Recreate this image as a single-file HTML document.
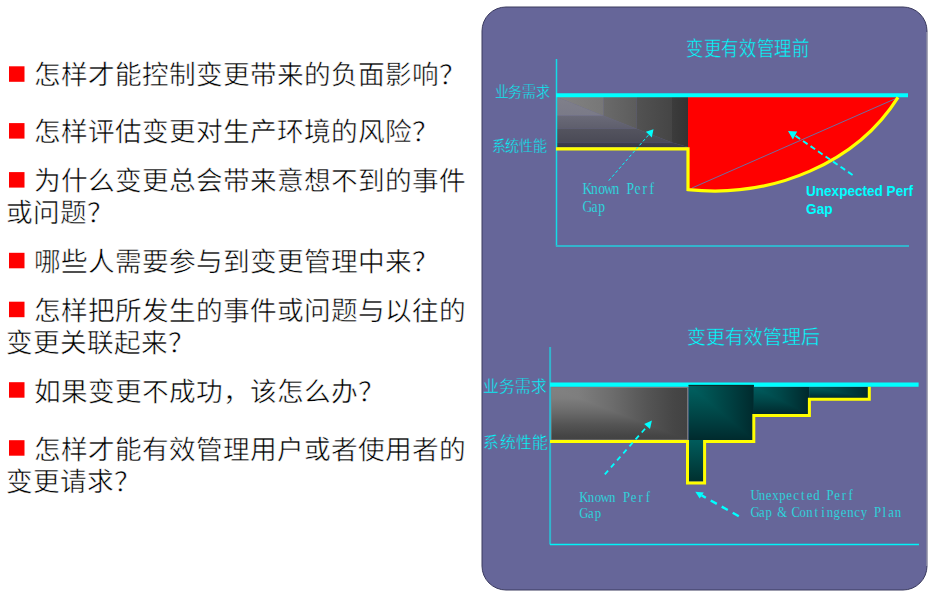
<!DOCTYPE html>
<html lang="zh-CN">
<head>
<meta charset="utf-8">
<style>
html,body{margin:0;padding:0;background:#fff;}
body{width:935px;height:595px;overflow:hidden;position:relative;font-family:"Liberation Serif",serif;}
svg{position:absolute;left:0;top:0;}
.q{font-family:"Liberation Serif",serif;font-size:26.67px;fill:#000;}
.q text{stroke:#fff;stroke-width:0.5px;}
.lab{font-family:"Liberation Serif",serif;fill:#00ffff;stroke:#666699;stroke-width:0.35px;}
.mono{font-family:"Liberation Serif",serif;fill:#28e0e4;stroke:#666699;stroke-width:0.15px;}
.bold{font-family:"Liberation Sans",sans-serif;font-weight:bold;fill:#00ffff;}
</style>
</head>
<body>
<svg width="935" height="595" viewBox="0 0 935 595">
<defs>
  <linearGradient id="gh" x1="0" y1="0" x2="1" y2="0">
    <stop offset="0" stop-color="#868686"/>
    <stop offset="0.35" stop-color="#747474"/>
    <stop offset="1" stop-color="#404040"/>
  </linearGradient>
  <linearGradient id="gv" x1="0" y1="0" x2="0" y2="1">
    <stop offset="0" stop-color="#444" stop-opacity="0"/>
    <stop offset="0.3" stop-color="#444" stop-opacity="0.1"/>
    <stop offset="1" stop-color="#424242" stop-opacity="1"/>
  </linearGradient>
  <linearGradient id="t1" x1="0" y1="0" x2="1" y2="1">
    <stop offset="0" stop-color="#006060"/>
    <stop offset="1" stop-color="#00282c"/>
  </linearGradient>
  <linearGradient id="t2" x1="0" y1="0" x2="1" y2="0.3">
    <stop offset="0" stop-color="#005c5e"/>
    <stop offset="1" stop-color="#002a2e"/>
  </linearGradient>
  <linearGradient id="t3" x1="0" y1="0" x2="0" y2="1">
    <stop offset="0" stop-color="#005c5c"/>
    <stop offset="1" stop-color="#00302f"/>
  </linearGradient>
  <linearGradient id="rv0" x1="0" y1="0" x2="1" y2="0"><stop offset="0" stop-color="#838383"/><stop offset="1" stop-color="#777777"/></linearGradient>
  <linearGradient id="rh0" x1="0" y1="0" x2="0" y2="1"><stop offset="0" stop-color="#80808a"/><stop offset="1" stop-color="#7a7a88"/></linearGradient>
  <linearGradient id="rv1" x1="0" y1="0" x2="1" y2="0"><stop offset="0" stop-color="#6a6a6a"/><stop offset="1" stop-color="#5c5c5c"/></linearGradient>
  <linearGradient id="rh1" x1="0" y1="0" x2="0" y2="1"><stop offset="0" stop-color="#6a6a78"/><stop offset="1" stop-color="#5e5e6c"/></linearGradient>
  <linearGradient id="rv2" x1="0" y1="0" x2="1" y2="0"><stop offset="0" stop-color="#525252"/><stop offset="1" stop-color="#454545"/></linearGradient>
  <linearGradient id="rh2" x1="0" y1="0" x2="0" y2="1"><stop offset="0" stop-color="#54545f"/><stop offset="1" stop-color="#4a4a56"/></linearGradient>
  <linearGradient id="rv3" x1="0" y1="0" x2="1" y2="0"><stop offset="0" stop-color="#3c3c3c"/><stop offset="1" stop-color="#333333"/></linearGradient>
  <linearGradient id="rh3" x1="0" y1="0" x2="0" y2="1"><stop offset="0" stop-color="#3e3e4c"/><stop offset="1" stop-color="#363644"/></linearGradient>
  <linearGradient id="gbH" x1="0" y1="0" x2="1" y2="0"><stop offset="0" stop-color="#828282"/><stop offset="0.2" stop-color="#7e7e7e"/><stop offset="0.45" stop-color="#6c6c6c"/><stop offset="0.7" stop-color="#555555"/><stop offset="0.9" stop-color="#464646"/><stop offset="1" stop-color="#424242"/></linearGradient>
  <linearGradient id="gbV" x1="0" y1="0" x2="0" y2="1"><stop offset="0" stop-color="#828282"/><stop offset="0.2" stop-color="#7e7e7e"/><stop offset="0.45" stop-color="#6c6c6c"/><stop offset="0.7" stop-color="#555555"/><stop offset="0.9" stop-color="#464646"/><stop offset="1" stop-color="#424242"/></linearGradient>
  <linearGradient id="tmH" x1="0" y1="0" x2="1" y2="0"><stop offset="0" stop-color="#006262"/><stop offset="0.35" stop-color="#005050"/><stop offset="0.7" stop-color="#003c3e"/><stop offset="1" stop-color="#002a2d"/></linearGradient>
  <linearGradient id="tmV" x1="0" y1="0" x2="0" y2="1"><stop offset="0" stop-color="#006262"/><stop offset="0.35" stop-color="#005050"/><stop offset="0.7" stop-color="#003c3e"/><stop offset="1" stop-color="#002a2d"/></linearGradient>
  <linearGradient id="ts2H" x1="0" y1="0" x2="1" y2="0"><stop offset="0" stop-color="#005e60"/><stop offset="0.5" stop-color="#004648"/><stop offset="1" stop-color="#00282c"/></linearGradient>
  <linearGradient id="ts2V" x1="0" y1="0" x2="0" y2="1"><stop offset="0" stop-color="#005e60"/><stop offset="0.5" stop-color="#004648"/><stop offset="1" stop-color="#00282c"/></linearGradient>
  <linearGradient id="ts3H" x1="0" y1="0" x2="1" y2="0"><stop offset="0" stop-color="#005e60"/><stop offset="0.5" stop-color="#004648"/><stop offset="1" stop-color="#00282c"/></linearGradient>
  <linearGradient id="ts3V" x1="0" y1="0" x2="0" y2="1"><stop offset="0" stop-color="#005e60"/><stop offset="0.5" stop-color="#004648"/><stop offset="1" stop-color="#00282c"/></linearGradient>
</defs>

<!-- left questions -->
<g class="q">
  <rect x="9" y="66.3" width="15.5" height="15.5" fill="#ff0000"/>
  <text x="33.6" y="84.4">怎样才能控制变更带来的负面影响？</text>
  <rect x="9" y="123.1" width="15.5" height="15.5" fill="#ff0000"/>
  <text x="33.6" y="141.4">怎样评估变更对生产环境的风险？</text>
  <rect x="9" y="172.1" width="15.5" height="15.5" fill="#ff0000"/>
  <text x="33.6" y="190.4">为什么变更总会带来意想不到的事件</text>
  <text x="6" y="222.4">或问题？</text>
  <rect x="9" y="252.8" width="15.5" height="15.5" fill="#ff0000"/>
  <text x="33.6" y="270.5">哪些人需要参与到变更管理中来？</text>
  <rect x="9" y="301.7" width="15.5" height="15.5" fill="#ff0000"/>
  <text x="33.6" y="320.0">怎样把所发生的事件或问题与以往的</text>
  <text x="6" y="352.3">变更关联起来？</text>
  <rect x="9" y="382.2" width="15.5" height="15.5" fill="#ff0000"/>
  <text x="33.6" y="400.5">如果变更不成功，该怎么办？</text>
  <rect x="9" y="440.2" width="15.5" height="15.5" fill="#ff0000"/>
  <text x="33.6" y="458.5">怎样才能有效管理用户或者使用者的</text>
  <text x="6" y="490.8">变更请求？</text>
</g>

<!-- panel -->
<rect x="482" y="7" width="445" height="583" rx="24" ry="24" fill="#666699" stroke="#3a3a5e" stroke-width="1"/>
<line x1="927" y1="32" x2="927" y2="566" stroke="#b4b4c4" stroke-width="1"/>

<!-- ===== top chart ===== -->
<text class="lab" transform="translate(685.8,56) scale(1,1.1)" font-size="18.6" textLength="124" lengthAdjust="spacingAndGlyphs">变更有效管理前</text>
<text class="lab" transform="translate(494.8,97.3) scale(1,1.08)" font-size="13.8" textLength="54.5" lengthAdjust="spacingAndGlyphs">业务需求</text>
<text class="lab" transform="translate(491.8,151.2) scale(1,1.08)" font-size="13.8" textLength="54.5" lengthAdjust="spacingAndGlyphs">系统性能</text>
<!-- gray block (banded corner gradient) -->
<polygon points="557,97 557,97 603.6,115.8 557,115.8" fill="url(#rh0)"/>
<polygon points="557,97 603.6,97 603.6,115.8 557,97" fill="url(#rv0)"/>
<polygon points="557,115.8 603.6,115.8 636.6,128.8 557,128.8" fill="url(#rh1)"/>
<polygon points="603.6,97 636.6,97 636.6,128.8 603.6,115.8" fill="url(#rv1)"/>
<polygon points="557,128.8 636.6,128.8 672,142.6 557,142.6" fill="url(#rh2)"/>
<polygon points="636.6,97 672,97 672,142.6 636.6,128.8" fill="url(#rv2)"/>
<polygon points="557,142.6 672,142.6 688,147 557,147" fill="url(#rh3)"/>
<polygon points="672,97 688,97 688,147 672,142.6" fill="url(#rv3)"/>
<!-- red -->
<path d="M688,97 L688,189.6 A208.6,176.9 0 0 0 898,97.3 Z" fill="#ff0000"/>
<line x1="692" y1="188" x2="897" y2="98" stroke="#6e6ea0" stroke-width="1"/>
<!-- axes -->
<line x1="556.5" y1="59" x2="556.5" y2="246.5" stroke="#12dce6" stroke-width="1.5"/>
<line x1="556" y1="246" x2="909" y2="246" stroke="#33b4cc" stroke-width="2"/>
<!-- cyan demand line -->
<line x1="556" y1="95.2" x2="908" y2="95.2" stroke="#00ffff" stroke-width="4"/>
<!-- yellow -->
<path d="M556,148.8 L688,148.8 L688,189.6 A208.6,176.9 0 0 0 898,97.3" fill="none" stroke="#ffff00" stroke-width="3.2"/>
<!-- arrows -->
<line x1="608.8" y1="180.6" x2="648.8" y2="134.7" stroke="#00ffff" stroke-width="1" stroke-dasharray="3 2.2"/>
<path d="M653.5,129.2 L645.9,131.8 L651.8,137.6 Z" fill="#00ffff"/>
<line x1="852.6" y1="175" x2="795" y2="135.5" stroke="#00ffff" stroke-width="1.9" stroke-dasharray="5.5 3.6"/>
<path d="M788,130.9 L797.2,131.4 L792.9,139.6 Z" fill="#00ffff"/>
<text class="mono" transform="translate(583.7,194) scale(0.93,1.1)" font-size="14.6" text-anchor="middle" x="3.85 11.56 19.27 26.98 34.69 50.11 57.82 65.53 73.24" y="0">KnownPerf</text>
<text class="mono" transform="translate(583.7,211.8) scale(0.93,1.1)" font-size="14.6" text-anchor="middle" x="3.85 11.56 19.27" y="0">Gap</text>
<text class="bold" transform="translate(806,195.7) scale(1,1.1)" font-size="13.7" textLength="107" lengthAdjust="spacingAndGlyphs">Unexpected Perf</text>
<text class="bold" transform="translate(806,214) scale(1,1.1)" font-size="13.7">Gap</text>

<!-- ===== bottom chart ===== -->
<text class="lab" x="687.4" y="344" font-size="19" textLength="132.5" lengthAdjust="spacingAndGlyphs">变更有效管理后</text>
<text class="lab" x="482.8" y="392" font-size="15.6" textLength="64.8" lengthAdjust="spacingAndGlyphs">业务需求</text>
<text class="lab" x="483.4" y="448.3" font-size="15.6" textLength="64.6" lengthAdjust="spacingAndGlyphs">系统性能</text>
<rect x="551" y="387.4" width="136.6" height="52.6" fill="url(#gbV)"/><polygon points="551,387.4 687.6,387.4 687.6,440.0" fill="url(#gbH)"/><rect x="551" y="387.4" width="136.6" height="52.6" fill="none" stroke="#7e7e7e" stroke-width="1"/>
<!-- axes -->
<line x1="550.1" y1="347" x2="550.1" y2="544.5" stroke="#33b4cc" stroke-width="2"/>
<line x1="550" y1="544.4" x2="919" y2="544.4" stroke="#00f4f8" stroke-width="1.5"/>
<line x1="550" y1="384.7" x2="918.6" y2="384.7" stroke="#00ffff" stroke-width="4.3"/>
<!-- teal fills -->
<rect x="688.6" y="384.9" width="65.2" height="55.3" fill="url(#tmV)"/><polygon points="688.6,384.9 753.8000000000001,384.9 753.8000000000001,440.2" fill="url(#tmH)"/>
<rect x="688.6" y="384.9" width="65.2" height="1" fill="#0a2a2a"/>
<rect x="688.6" y="440" width="14.8" height="41.5" fill="url(#t3)"/>
<rect x="753.8" y="387" width="55.6" height="27.6" fill="url(#ts2V)"/><polygon points="753.8,387 809.4,387 809.4,414.6" fill="url(#ts2H)"/>
<rect x="809.4" y="387" width="59.9" height="11.0" fill="url(#ts3V)"/><polygon points="809.4,387 869.3,387 869.3,398" fill="url(#ts3H)"/>
<path d="M550,441.5 L687.5,441.5 L687.5,483 L704.6,483 L704.6,441.5 L753.8,441.5 L753.8,415.6 L809.4,415.6 L809.4,399.2 L869.3,399.2 L869.3,386.8" fill="none" stroke="#ffff00" stroke-width="3"/>
<line x1="604.8" y1="474.3" x2="647.1" y2="426.4" stroke="#00ffff" stroke-width="1.8" stroke-dasharray="5 4.3"/>
<path d="M651.9,420.6 L644.2,423.9 L650,428.9 Z" fill="#00ffff"/>
<line x1="738.8" y1="516.2" x2="701.7" y2="495.4" stroke="#00ffff" stroke-width="2.4" stroke-dasharray="7 5.6"/>
<path d="M695.3,491.8 L703.8,492.4 L699.7,498.5 Z" fill="#00ffff"/>
<text class="mono" transform="translate(580.2,502.1) scale(0.93,1.0)" font-size="13.7" text-anchor="middle" x="3.83 11.48 19.14 26.80 34.45 49.76 57.42 65.08 72.73" y="0">KnownPerf</text>
<text class="mono" transform="translate(580.2,518.2) scale(0.93,1.0)" font-size="13.7" text-anchor="middle" x="3.83 11.48 19.14" y="0">Gap</text>
<text class="mono" transform="translate(751.6,500.3) scale(0.93,1.0)" font-size="13.7" text-anchor="middle" x="3.67 11.02 18.36 25.70 33.05 40.39 47.74 55.08 62.42 69.77 84.46 91.80 99.15 106.49" y="0">UnexpectedPerf</text>
<text class="mono" transform="translate(751.6,516.6) scale(0.93,1.0)" font-size="13.7" text-anchor="middle" x="3.66 10.98 18.31 32.95 47.60 54.92 62.24 69.56 76.89 84.21 91.53 98.85 106.18 113.50 120.82 135.47 142.79 150.11 157.44" y="0">Gap&amp;ContingencyPlan</text>
</svg>
</body>
</html>
